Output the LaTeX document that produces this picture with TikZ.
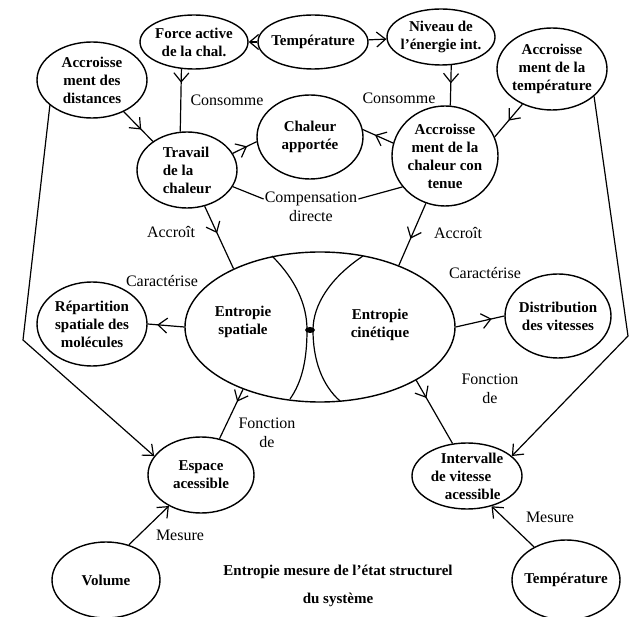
\documentclass[tikz,border=0pt]{standalone}
\usepackage{fontspec}
\setmainfont{Liberation Serif}
\usepackage{tikz}
\usetikzlibrary{arrows.meta,shapes.geometric,decorations.markings,calc}

\begin{document}
\begin{tikzpicture}[x=1pt,y=-1pt,
  concept/.style={draw, ellipse, line width=1.4pt, inner xsep=-6pt, inner ysep=-4pt, align=center, font=\bfseries\fontsize{15}{18}\selectfont},
  linklabel/.style={font=\fontsize{16}{19}\selectfont, align=center, inner sep=1pt},
  link/.style={line width=1.2pt},
  barb/.style={-{Straight Barb[length=9pt,width=15pt]}},
  midbarb/.style={postaction={decorate}, decoration={markings, mark=at position #1 with {\arrow{Straight Barb[length=9pt,width=15pt]}}}}
]
\useasboundingbox (0,0) rectangle (640,617);

% concepts
\node[concept, minimum width=108pt, minimum height=54pt] (force) at (194,42) {Force active\\de la chal.};
\node[concept, minimum width=110pt, minimum height=54pt] (tempA) at (313,42) {Température};
\node[concept, minimum width=108pt, minimum height=56pt] (niveau) at (441,37) {Niveau de\\l'énergie int.};
\node[concept, minimum width=110pt, minimum height=76pt] (dist) at (92,80) {Accroisse\\ment des\\distances};
\node[concept, minimum width=110pt, minimum height=82pt] (accrtemp) at (552,69) {Accroisse\\ment de la\\température};
\node[concept, minimum width=100pt, minimum height=76pt, align=left] (travail) at (187,170) {Travail\\de la\\chaleur};
\node[concept, minimum width=106pt, minimum height=84pt] (apport) at (310,137) {Chaleur\\apportée};
\node[concept, minimum width=106pt, minimum height=100pt] (accrchal) at (445,156) {Accroisse\\ment de la\\chaleur con\\tenue};
\node[concept, minimum width=270pt, minimum height=150pt] (entropie) at (320,327) {};
\node[font=\bfseries\fontsize{15}{18}\selectfont, align=center] (spatiale) at (243,322) {Entropie\\spatiale};
\node[font=\bfseries\fontsize{15}{18}\selectfont, align=center] (cinetique) at (380,325) {Entropie\\cinétique};
\node[concept, minimum width=110pt, minimum height=84pt] (repart) at (92,324) {Répartition\\spatiale des\\molécules};
\node[concept, minimum width=106pt, minimum height=84pt] (distrib) at (558,316) {Distribution\\des vitesses};
\node[concept, minimum width=106pt, minimum height=76pt] (espace) at (201,475) {Espace\\acessible};
\node[concept, minimum width=110pt, minimum height=66pt, align=left] (interv) at (467,476) {\hspace*{10pt}Intervalle\\de vitesse\\\hspace*{14pt}acessible};
\node[concept, minimum width=108pt, minimum height=76pt] (volume) at (106,580) {Volume};
\node[concept, minimum width=108pt, minimum height=80pt] (tempC) at (566,580) {Température};

% inner split of the entropy
\draw[link] (272,256) .. controls (296,280) and (307,305) .. (307,330) .. controls (307,360) and (302,382) .. (290,399);
\draw[link] (363,256) .. controls (330,278) and (313,305) .. (313,330) .. controls (313,360) and (322,385) .. (340,401);
\fill (310,330) ellipse (5 and 3);

% labels
\node[linklabel] (consA) at (227,100) {Consomme};
\node[linklabel] (consB) at (399,98) {Consomme};
\node[linklabel] (comp) at (311,207) {Compensation\\directe};
\node[linklabel] (accrA) at (171,232) {Accroît};
\node[linklabel] (accrB) at (458,233) {Accroît};
\node[linklabel] (carA) at (162,281) {Caractérise};
\node[linklabel] (carB) at (485,273) {Caractérise};
\node[linklabel] (fonA) at (267,433) {Fonction\\de};
\node[linklabel] (fonB) at (490,389) {Fonction\\de};
\node[linklabel] (mesA) at (180,535) {Mesure};
\node[linklabel] (mesB) at (550,517) {Mesure};
\node[font=\bfseries\fontsize{15}{28}\selectfont, align=center] (caption) at (338,586) {Entropie mesure de l'état structurel\\du système};

% links
\draw[link, barb] (tempA) -- (force);
\draw[link, barb] (tempA) -- (niveau);
\draw[link, midbarb=0.22] (force.245) -- (travail.100);
\draw[link, midbarb=0.45] (niveau.290) -- (accrchal.84);
\draw[link, midbarb=0.6] (dist.-45) -- (travail.140);
\draw[link, midbarb=0.5] (accrtemp.230) -- (accrchal.21);
\draw[link, midbarb=0.6] (travail.20) -- (apport.185);
\draw[link, midbarb=0.6] (accrchal.166) -- (apport.8);
\draw[link] (travail.-20) -- ([yshift=8pt]comp.west);
\draw[link] ([yshift=8pt]comp.east) -- (accrchal.216);
\draw[link, midbarb=0.43] (travail.296) -- (entropie.146);
\draw[link, midbarb=0.57] (accrchal.248) -- (entropie.38);
\draw[link, midbarb=0.74] (entropie.180) -- (repart.0);
\draw[link, midbarb=0.74] (entropie.0) -- (distrib.180);
\draw[link, midbarb=0.25] (entropie.219) -- (espace.63);
\draw[link, midbarb=0.28] (entropie.331) -- (interv.114);
\coordinate (bendL) at (23,340);
\coordinate (bendR) at (628,336);
\draw[link, barb] (dist.211) -- (bendL) -- (espace.158);
\draw[link, barb] (accrtemp.327) -- (bendR) -- (interv.24);
\draw[link, barb] (volume.57) -- (espace.224);
\draw[link, barb] (tempC.134) -- (interv.309);
\end{tikzpicture}
\end{document}
